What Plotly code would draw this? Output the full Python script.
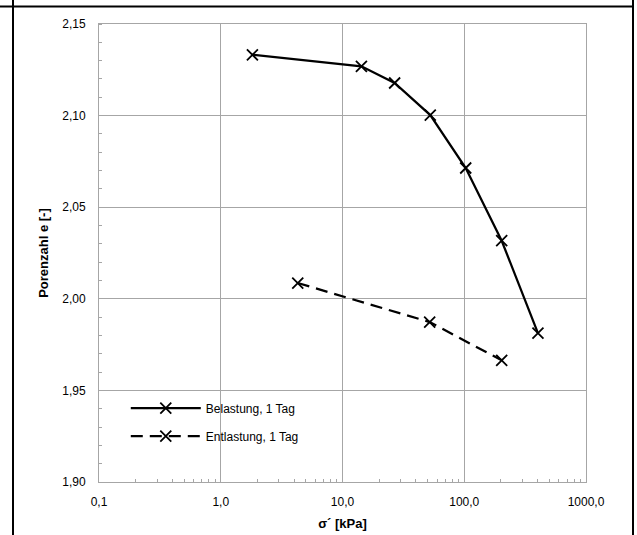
import plotly.graph_objects as go

# Data
belastung_sigma = [1.82, 14.3, 26.8, 52.6, 102.8, 203.0, 403.0]
belastung_e = [2.1332, 2.1269, 2.1178, 2.1003, 2.0714, 2.0317, 1.9813]
entlastung_sigma = [4.29, 52.0, 203.0]
entlastung_e = [2.0086, 1.9873, 1.9664]

x_tickvals = [0.1, 1, 10, 100, 1000]
x_ticktext = ["0,1", "1,0", "10,0", "100,0", "1000,0"]
x_minor_ticks = [m * d for d in [0.1, 1, 10, 100] for m in range(2, 10)]
y_tickvals = [1.90, 1.95, 2.00, 2.05, 2.10, 2.15]
y_ticktext = ["1,90", "1,95", "2,00", "2,05", "2,10", "2,15"]

FONT = "Liberation Sans, Arial, sans-serif"

fig = go.Figure()
fig.add_trace(go.Scatter(
    x=belastung_sigma, y=belastung_e, mode="lines+markers",
    name="Belastung, 1 Tag", legendgroup="a",
    line=dict(color="black", width=2.25),
    marker=dict(symbol="x-thin", size=11, line=dict(color="black", width=1.8)),
))
fig.add_trace(go.Scatter(
    x=entlastung_sigma, y=entlastung_e, mode="lines+markers",
    name="Entlastung, 1 Tag", legendgroup="b",
    line=dict(color="black", width=2.25, dash="12px,7px"),
    marker=dict(symbol="x-thin", size=11, line=dict(color="black", width=1.8)),
))

L, R, T, B = 99, 51, 24, 53
W, H = 637, 535
pw, ph = W - L - R, H - T - B

def px(xp):
    return (xp - L) / pw

def py(yp):
    return (H - B - yp) / ph

shapes = [
    dict(type="line", xref="paper", yref="paper", x0=px(13), x1=px(13), y0=py(0), y1=py(H),
         line=dict(color="black", width=2)),
    dict(type="line", xref="paper", yref="paper", x0=px(0), x1=px(634), y0=py(6.5), y1=py(6.5),
         line=dict(color="black", width=2)),
    dict(type="line", xref="paper", yref="paper", x0=px(633), x1=px(633), y0=py(0), y1=py(H),
         line=dict(color="black", width=2)),
]

fig.update_layout(
    width=W, height=H,
    margin=dict(l=L, r=R, t=T, b=B),
    paper_bgcolor="white", plot_bgcolor="white",
    font=dict(family=FONT, size=12, color="black"),
    shapes=shapes,
    showlegend=True,
    legend=dict(
        x=0.055, y=0.193, xanchor="left", yanchor="top",
        bgcolor="rgba(0,0,0,0)", itemwidth=70, tracegroupgap=9,
        font=dict(family=FONT, size=12, color="black"),
    ),
    xaxis=dict(
        type="log", range=[-1, 3], automargin=False,
        tickvals=x_tickvals, ticktext=x_ticktext,
        showgrid=True, gridcolor="#a6a6a6", gridwidth=1,
        showline=True, linecolor="#a6a6a6", linewidth=1, mirror=True,
        ticks="", zeroline=False, ticklabelstandoff=9,
        minor=dict(ticks="inside", ticklen=3, tickcolor="#a6a6a6", showgrid=False,
                   tickmode="array", tickvals=x_minor_ticks),
        title=dict(text="<b>σ´ [kPa]</b>", font=dict(family=FONT, size=13), standoff=10),
        tickfont=dict(family=FONT, size=12),
    ),
    yaxis=dict(
        range=[1.90, 2.15], automargin=False,
        tickvals=y_tickvals, ticktext=y_ticktext,
        showgrid=True, gridcolor="#a6a6a6", gridwidth=1,
        showline=True, linecolor="#a6a6a6", linewidth=1, mirror=True,
        ticks="", zeroline=False, ticklabelstandoff=10,
        minor=dict(ticks="inside", ticklen=3, tickcolor="#a6a6a6", dtick=0.01, showgrid=False),
        title=dict(text="<b>Porenzahl e [-]</b>", font=dict(family=FONT, size=13), standoff=10),
        tickfont=dict(family=FONT, size=12),
    ),
)

fig.write_html("out.html")
